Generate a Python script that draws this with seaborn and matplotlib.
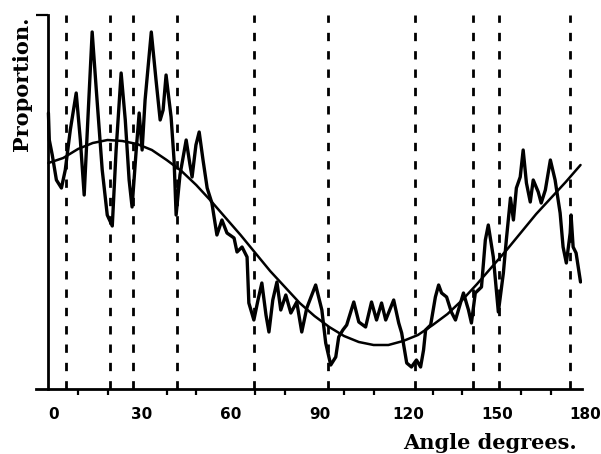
import numpy as np
import pandas as pd
import matplotlib
matplotlib.use("Agg")
import matplotlib.pyplot as plt
import matplotlib.transforms as mtransforms
import seaborn as sns

# angle (degrees) and proportion (arbitrary units)
noisy_angle = [0, 0.3, 1.3, 2.7, 4.4, 5.7, 7.4, 9.4, 10.8, 12.1, 13.5, 14.8, 16.2, 18.2, 19.9,
               21.6, 22.9, 24.6, 26.0, 27.3, 28.3, 29.7, 30.7, 31.7, 32.7, 34.8, 36.4, 37.8,
               38.8, 39.8, 40.8, 41.5, 42.5, 43.2, 44.5, 46.6, 47.9, 48.6, 49.9, 51.0, 52.3,
               53.7, 55.3, 57.0, 58.7, 60.4, 62.8, 63.8, 65.5, 67.2, 67.8, 69.5, 70.9, 72.2,
               73.6, 74.6, 75.9, 77.3, 78.6, 80.3, 82.0, 84.0, 85.7, 87.4, 90.4, 92.5, 93.8,
               95.5, 97.2, 98.2, 99.6, 100.9, 103.3, 105.0, 107.3, 109.3, 111.0, 112.7, 114.1,
               116.8, 118.5, 119.5, 121.2, 122.8, 124.5, 125.9, 126.9, 127.6, 129.3, 130.9,
               132.0, 133.0, 134.7, 136.3, 137.7, 140.4, 142.1, 143.1, 144.4, 146.5, 147.8,
               148.8, 150.5, 152.2, 153.9, 154.9, 156.3, 157.3, 158.3, 159.6, 160.6, 161.7,
               163.0, 164.0, 165.7, 166.7, 168.1, 169.8, 171.4, 173.1, 174.1, 175.2, 176.5,
               176.8, 177.5, 178.5, 180]
noisy_prop = [276, 249, 234, 209, 201, 219, 259, 296, 249, 194, 279, 357, 299, 219, 174,
              163, 239, 316, 269, 209, 182, 239, 276, 239, 289, 357, 309, 269,
              279, 314, 289, 272, 229, 174, 214, 249, 224, 212, 244, 257, 229,
              201, 186, 154, 169, 156, 151, 137, 142, 132, 86, 69, 89, 106,
              74, 57, 89, 107, 79, 94, 76, 87, 57, 81, 104, 79, 46,
              24, 32, 52, 59, 64, 87, 67, 62, 87, 69, 86, 69,
              89, 66, 56, 26, 22, 29, 22, 39, 59, 64, 92,
              104, 96, 92, 77, 69, 96, 79, 66, 96, 102, 149,
              164, 132, 77, 116, 149, 191, 169, 201, 212, 239, 206,
              187, 209, 197, 186, 199, 229, 209, 176, 142, 126, 156,
              174, 142, 136, 107]

smooth_angle = list(range(0, 181, 5))
smooth_prop = [226, 231, 240, 246, 249, 248, 245, 239, 229, 218, 204, 188, 171, 154, 136,
               118, 102, 86, 73, 62, 53, 47, 44, 44, 48, 54, 64, 75, 89, 105, 122, 139,
               157, 175, 191, 207, 224]

marker_angles = [6, 21, 28.5, 43.5, 69.5, 94.5, 124, 143.5, 152.5, 176.5]

x_ticks = [0, 30, 60, 90, 120, 150, 180]
x_minor = [10, 20, 40, 50, 70, 80, 100, 110, 130, 140, 160, 170]

sns.set_style("white")
plt.rcParams["font.family"] = ["DejaVu Serif", "DejaVu Sans"]
plt.rcParams["text.color"] = "black"

fig = plt.figure(figsize=(6.01, 4.54), dpi=100)
ax = fig.add_axes([36 / 601, 65 / 454, (582 - 36) / 601, (389 - 15) / 454])

for a in marker_angles:
    ax.axvline(a, color="black", lw=2.0, linestyle=(0, (3.0, 3.6)), zorder=1)

noisy = pd.DataFrame({"angle": noisy_angle, "prop": noisy_prop})
smooth = pd.DataFrame({"angle": smooth_angle, "prop": smooth_prop})
sns.lineplot(data=noisy, x="angle", y="prop", color="black", lw=2.4, sort=False,
             estimator=None, ax=ax, zorder=3)
sns.lineplot(data=smooth, x="angle", y="prop", color="black", lw=1.8, sort=False,
             estimator=None, ax=ax, zorder=4)

ax.set_xlim(-4.2, 180.5)
ax.set_ylim(0, 374)

ax.spines["top"].set_visible(False)
ax.spines["right"].set_visible(False)
ax.spines["left"].set_position(("data", 0))
for s in ["left", "bottom"]:
    ax.spines[s].set_linewidth(2.0)
    ax.spines[s].set_color("black")

ax.set_xticks(x_ticks)
ax.set_xticklabels([str(t) for t in x_ticks], fontsize=11, fontweight="bold",
                   family=["DejaVu Sans"], color="black")
ax.set_xticks(x_minor, minor=True)
ax.tick_params(axis="x", which="major", direction="out", length=8, width=1.6,
               color="black", pad=5)
ax.tick_params(axis="x", which="minor", direction="out", length=4, width=1.6,
               color="black", bottom=True)
shift = mtransforms.ScaledTranslation(5 / 100, 0, fig.dpi_scale_trans)
for lbl in ax.get_xticklabels():
    lbl.set_transform(lbl.get_transform() + shift)
ax.set_yticks([374])
ax.set_yticklabels([""])
ax.tick_params(axis="y", direction="out", length=9, width=1.6, color="black", left=True)

ax.set_xlabel("")
ax.set_ylabel("")
fig.text(490 / 601, 1 - 443 / 454, "Angle degrees.", ha="center", va="center",
         fontsize=15, fontweight="bold", color="black")
fig.text(22 / 601, 1 - 84 / 454, "Proportion.", ha="center", va="center",
         rotation=90, fontsize=15, fontweight="bold", color="black")

fig.savefig("out.png", dpi=100, facecolor="white")
